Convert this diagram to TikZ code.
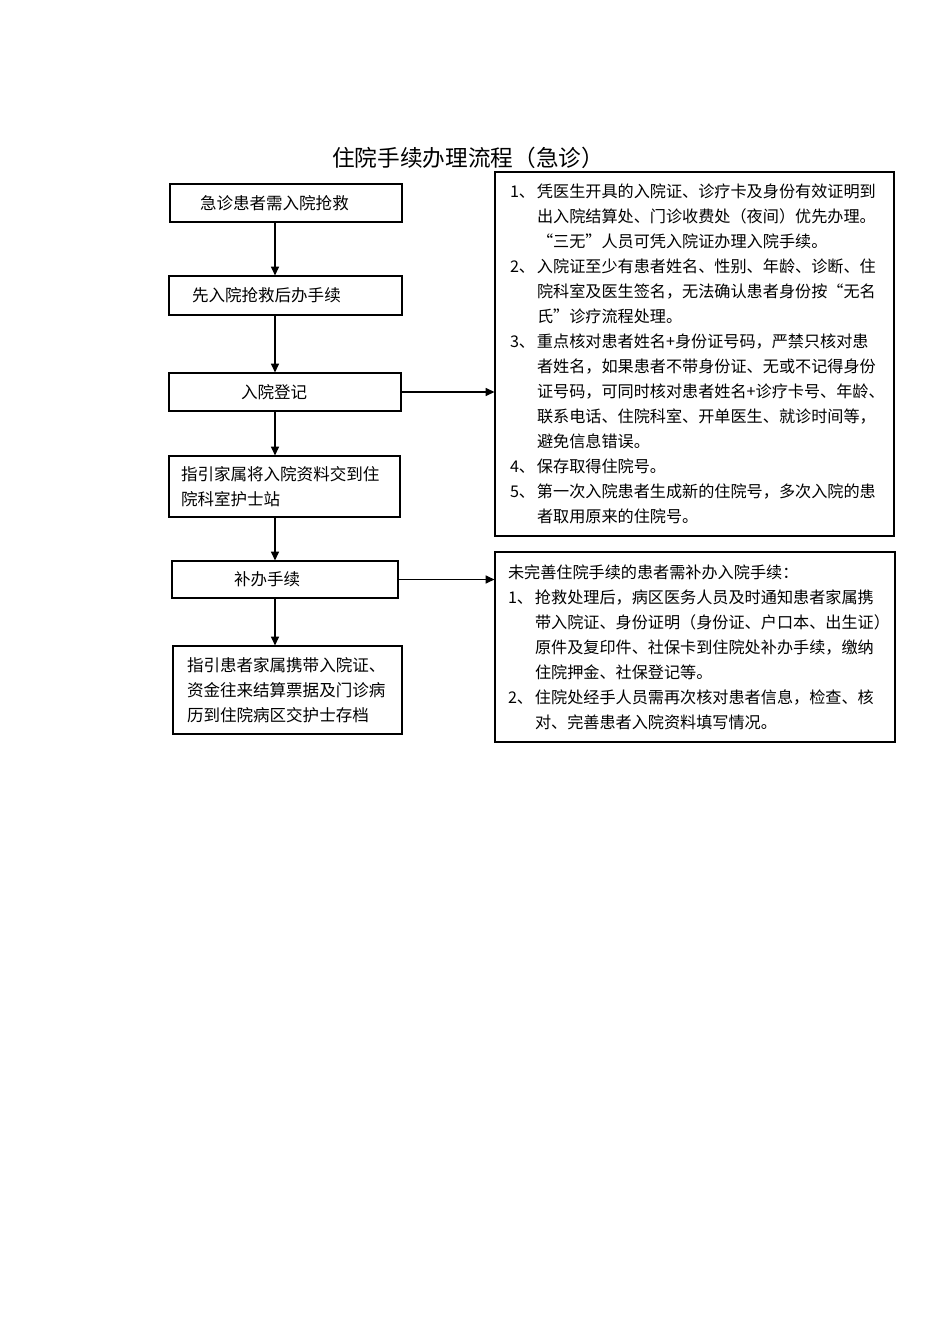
\documentclass[tikz,border=0pt]{standalone}
\usepackage{fontspec}
\setmainfont{Noto Sans CJK SC}
\usetikzlibrary{arrows.meta}
\newcommand\itemno[1]{\makebox[20.25pt][l]{#1}}
\newcommand\itemgap{\hspace*{20.25pt}}

\begin{document}
\begin{tikzpicture}[x=0.75pt, y=-0.75pt,
  box/.style={draw, line width=0.9pt, align=left, inner ysep=0pt,
    font=\fontsize{12.4}{18.75}\selectfont},
  note/.style={box, font=\fontsize{12.1}{18.75}\selectfont},
  arr/.style={line width=0.9pt, -{Triangle[length=6.5pt, width=6pt]}}]
\useasboundingbox (0,0) rectangle (950,1344);
\node [font=\fontsize{17}{20}\selectfont] (title) at (468,158) {住院手续办理流程（急诊）};
\node [box, inner xsep=22.5pt, text width=129pt, minimum height=28.5pt] (ep) at (286,203) {急诊患者需入院抢救};
\node [box, inner xsep=17.25pt, text width=140.25pt, minimum height=29.25pt] (first) at (285.5,295.5) {先入院抢救后办手续};
\node [box, inner xsep=54pt, text width=66pt, minimum height=28.5pt] (reg) at (285,392) {入院登记};
\node [box, inner xsep=9pt, text width=155.25pt, minimum height=45.75pt] (guide) at (284.5,486.5)
  {指引家属将入院资料交到住\\院科室护士站};
\node [box, inner xsep=46.5pt, text width=76.5pt, minimum height=27.75pt] (supp) at (285,579.5) {补办手续};
\node [box, inner xsep=10.5pt, text width=150.75pt, minimum height=66pt] (archive) at (287.5,690)
  {指引患者家属携带入院证、\\资金往来结算票据及门诊病\\历到住院病区交护士存档};
\node [note, inner xsep=11.25pt, text width=276.75pt, minimum height=273pt] (note1) at (694.5,354)
  {\itemno{1、}凭医生开具的入院证、诊疗卡及身份有效证明到\\
   \itemgap 出入院结算处、门诊收费处（夜间）优先办理。\\
   \itemgap “三无”人员可凭入院证办理入院手续。\\
   \itemno{2、}入院证至少有患者姓名、性别、年龄、诊断、住\\
   \itemgap 院科室及医生签名，无法确认患者身份按“无名\\
   \itemgap 氏”诊疗流程处理。\\
   \itemno{3、}重点核对患者姓名+身份证号码，严禁只核对患\\
   \itemgap 者姓名，如果患者不带身份证、无或不记得身份\\
   \itemgap 证号码，可同时核对患者姓名+诊疗卡号、年龄、\\
   \itemgap 联系电话、住院科室、开单医生、就诊时间等，\\
   \itemgap 避免信息错误。\\
   \itemno{4、}保存取得住院号。\\
   \itemno{5、}第一次入院患者生成新的住院号，多次入院的患\\
   \itemgap 者取用原来的住院号。};
\node [note, inner xsep=9.75pt, text width=280.5pt, minimum height=142.5pt] (note2) at (695,647)
  {未完善住院手续的患者需补办入院手续：\\
   \itemno{1、}抢救处理后，病区医务人员及时通知患者家属携\\
   \itemgap 带入院证、身份证明（身份证、户口本、出生证）\\
   \itemgap 原件及复印件、社保卡到住院处补办手续，缴纳\\
   \itemgap 住院押金、社保登记等。\\
   \itemno{2、}住院处经手人员需再次核对患者信息，检查、核\\
   \itemgap 对、完善患者入院资料填写情况。};
\coordinate (axis) at (275,0);
\draw [arr] (ep.south -| axis) -- (first.north -| axis);
\draw [arr] (first.south -| axis) -- (reg.north -| axis);
\draw [arr] (reg.south -| axis) -- (guide.north -| axis);
\draw [arr] (guide.south -| axis) -- (supp.north -| axis);
\draw [arr] (supp.south -| axis) -- (archive.north -| axis);
\draw [arr] (reg.east) -- (reg.east -| note1.west);
\draw [arr] (supp.east) -- (supp.east -| note2.west);
\end{tikzpicture}
\end{document}
